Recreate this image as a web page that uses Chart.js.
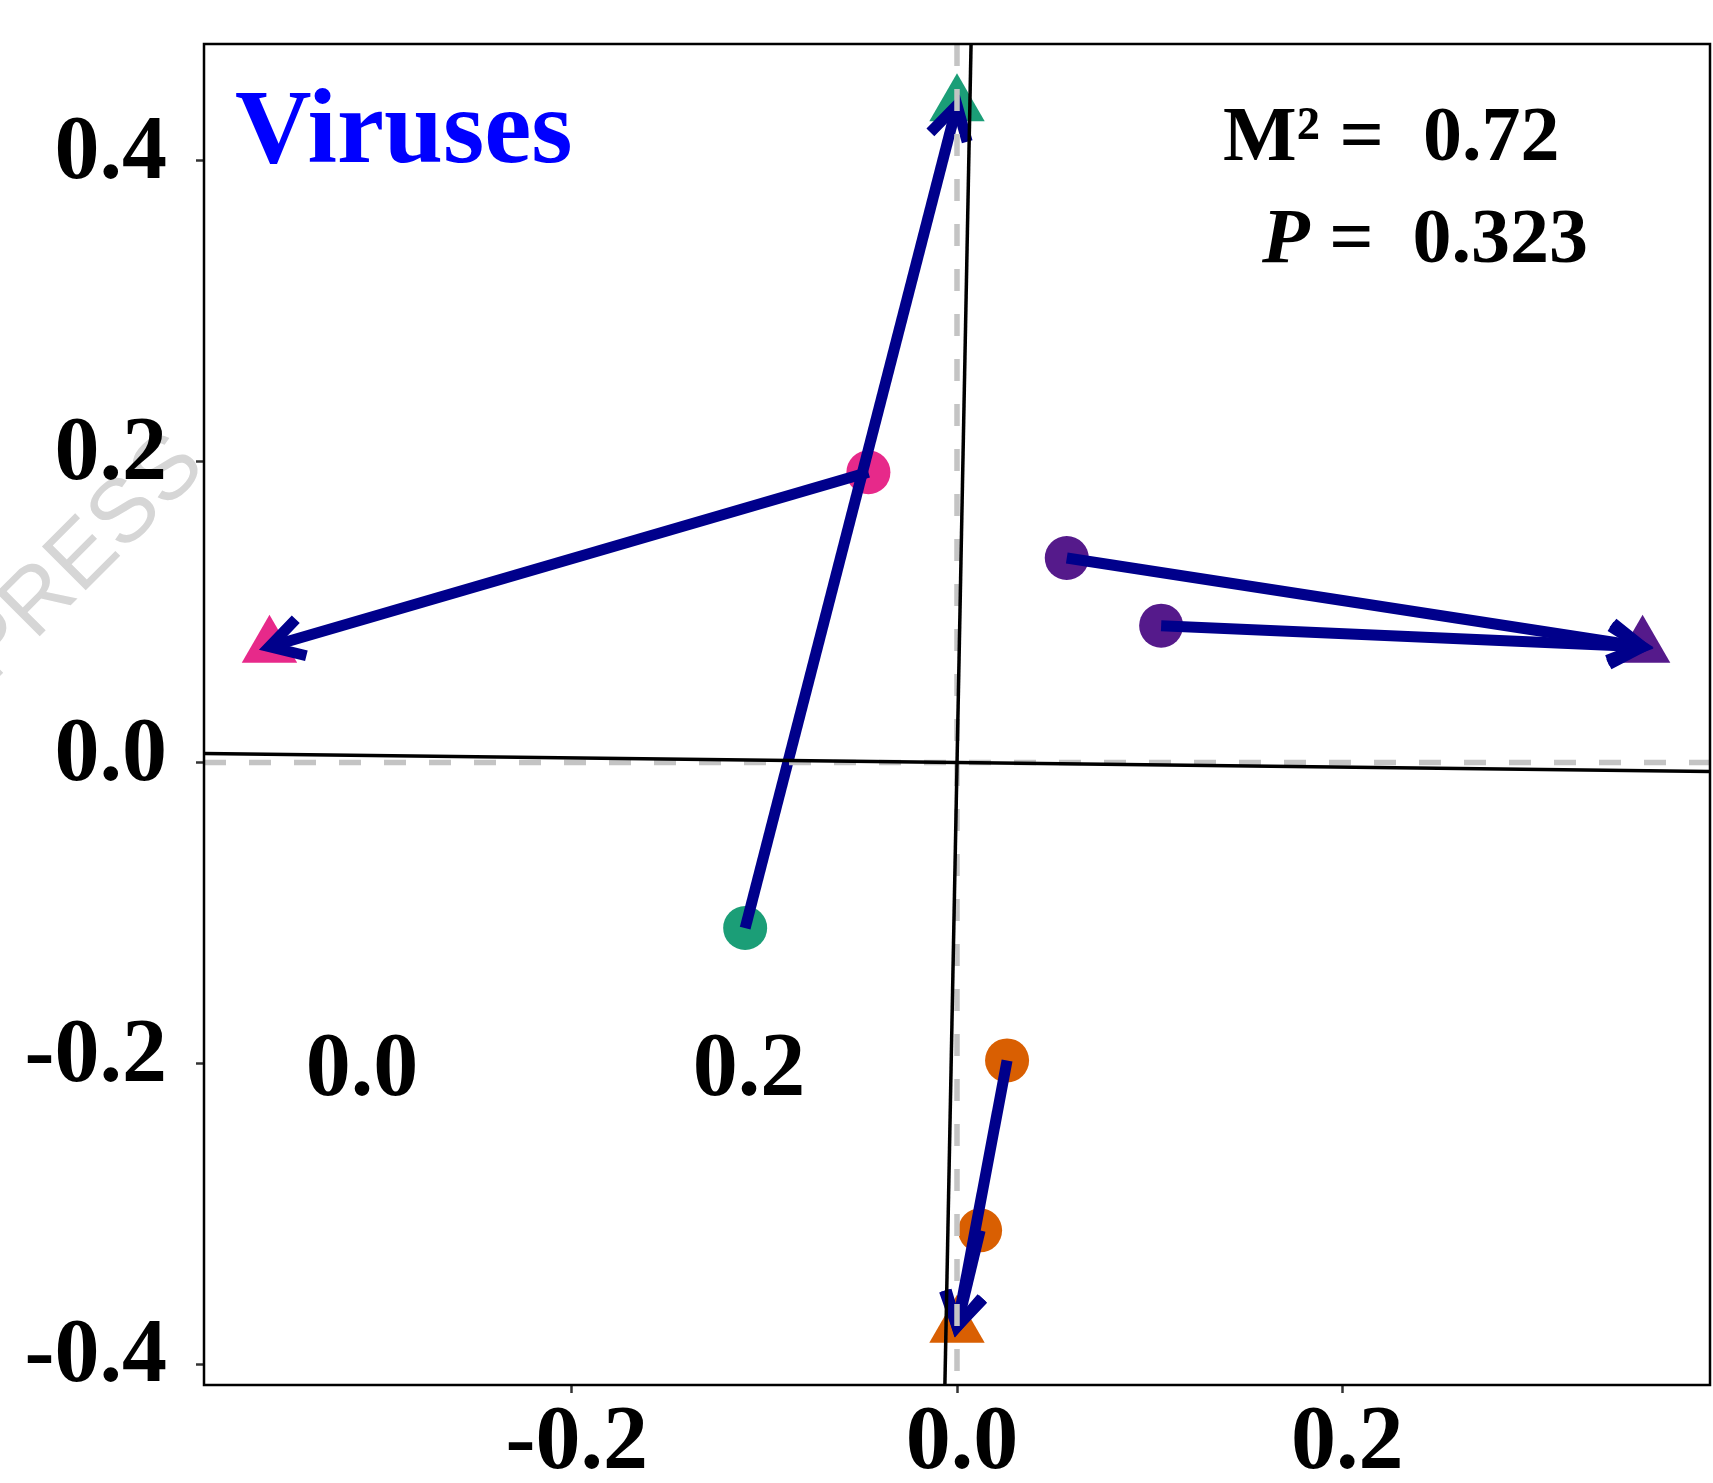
<!DOCTYPE html>
<html><head><meta charset="utf-8">
<script src="https://cdn.jsdelivr.net/npm/chart.js@4/dist/chart.umd.min.js"></script>
<style>html,body{margin:0;padding:0;background:#fff;} canvas{display:block;}</style>
</head><body>
<canvas id="c" width="1713" height="1483"></canvas>
<script>
// ---- data ----
const groupNames = ['G1', 'G2', 'G3', 'G4'];
const groupColors = ['#1B9E77', '#E7298A', '#551A8B', '#D95F02'];
// configuration 1 (circles)
const circleX = [-0.110, -0.046, 0.057, 0.106, 0.026, 0.012];
const circleY = [-0.110, 0.193, 0.136, 0.091, -0.198, -0.311];
const circleGroup = [0, 1, 2, 2, 3, 3];
// target configuration (triangles)
const triX = [0.000, -0.357, 0.356, 0.000];
const triY = [0.437, 0.077, 0.077, -0.375];
const triGroup = [0, 1, 2, 3];
// arrows: circle index -> triangle index
const arrowFrom = [0, 1, 2, 3, 4, 5];
const arrowTo = [0, 1, 2, 2, 3, 3];
// axes
const xTickValues = [-0.2, 0.0, 0.2];
const xTickLabels = ['-0.2', '0.0', '0.2'];
const yTickValues = [-0.4, -0.2, 0.0, 0.2, 0.4];
const yTickLabels = ['-0.4', '-0.2', '0.0', '0.2', '0.4'];
const xLimits = [-0.391, 0.391];
const yLimits = [-0.4138, 0.4777];
// reference (dashed) and rotated (solid) axes
const refLineH = [[-0.391, 0], [0.391, 0]];
const refLineV = [[0, 0.4777], [0, -0.4138]];
const rotLineH = [[-0.391, 0.0060], [0.391, -0.0060]];
const rotLineV = [[0.0073, 0.4777], [-0.0063, -0.4138]];
// stray axis labels inside the panel
const innerLabels = ['0.0', '0.2'];
const innerLabelX = [-0.309, -0.108];
const innerLabelY = [-0.201, -0.201];
// annotation text
const panelTitle = 'Viruses';
const m2Value = '0.72';
const pValue = '0.323';
const watermark = 'PRESS';

const SERIF = '"Liberation Serif", "Times New Roman", serif';
const toPts = (a) => a.map(p => ({x: p[0], y: p[1]}));
const noPad = (s) => { s.paddingTop = 0; s.paddingBottom = 0; s.paddingLeft = 0; s.paddingRight = 0; };

const decor = {
  id: 'decor',
  beforeDraw(chart) {
    const ctx = chart.ctx;
    ctx.save();
    ctx.translate(-8, 684);
    ctx.rotate(-Math.PI / 4);
    ctx.font = '90px "Liberation Sans", Arial, sans-serif';
    ctx.fillStyle = '#d6d6d6';
    ctx.textBaseline = 'alphabetic';
    ctx.textAlign = 'left';
    ctx.fillText(watermark, 0, 0);
    ctx.restore();
  },
  afterDatasetDraw(chart, args) {
    if (args.index !== 1) return;
    const ctx = chart.ctx, xs = chart.scales.x, ys = chart.scales.y;
    ctx.save();
    ctx.strokeStyle = '#00008B';
    ctx.lineWidth = 11;
    ctx.lineCap = 'butt';
    ctx.lineJoin = 'miter';
    for (let i = 0; i < arrowFrom.length; i++) {
      const a = arrowFrom[i], b = arrowTo[i];
      const x1 = xs.getPixelForValue(circleX[a]), y1 = ys.getPixelForValue(circleY[a]);
      const x2 = xs.getPixelForValue(triX[b]), y2 = ys.getPixelForValue(triY[b]);
      const ang = Math.atan2(y2 - y1, x2 - x1);
      const L = 38, h = Math.PI / 6;
      ctx.beginPath(); ctx.moveTo(x1, y1); ctx.lineTo(x2, y2); ctx.stroke();
      ctx.beginPath();
      ctx.moveTo(x2 - L * Math.cos(ang - h), y2 - L * Math.sin(ang - h));
      ctx.lineTo(x2, y2);
      ctx.lineTo(x2 - L * Math.cos(ang + h), y2 - L * Math.sin(ang + h));
      ctx.stroke();
    }
    ctx.restore();
  },
  afterDraw(chart) {
    const ctx = chart.ctx, a = chart.chartArea, xs = chart.scales.x, ys = chart.scales.y;
    ctx.save();
    // frame
    ctx.strokeStyle = '#000';
    ctx.lineWidth = 2.5;
    ctx.strokeRect(a.left, a.top, a.right - a.left, a.bottom - a.top);
    // title
    ctx.fillStyle = '#0000FF';
    ctx.font = 'bold 106px ' + SERIF;
    ctx.textBaseline = 'alphabetic';
    ctx.textAlign = 'left';
    ctx.fillText(panelTitle, 235, 162);
    // stats
    ctx.fillStyle = '#000';
    ctx.font = 'bold 78px ' + SERIF;
    ctx.fillText('M\u00B2 =  ' + m2Value, 1223, 160);
    ctx.font = 'italic bold 78px ' + SERIF;
    ctx.fillText('P', 1262, 262);
    const w = ctx.measureText('P').width;
    ctx.font = 'bold 78px ' + SERIF;
    ctx.fillText(' =  ' + pValue, 1262 + w, 262);
    // inner labels
    ctx.font = 'bold 90px ' + SERIF;
    ctx.textAlign = 'center';
    for (let i = 0; i < innerLabels.length; i++) {
      const px = xs.getPixelForValue(innerLabelX[i]);
      const py = ys.getPixelForValue(innerLabelY[i]);
      ctx.fillText(innerLabels[i], px, py + 30);
    }
    ctx.restore();
  }
};

new Chart(document.getElementById('c'), {
  type: 'scatter',
  data: {
    datasets: [
      {
        label: 'circles',
        data: circleX.map((x, i) => ({x, y: circleY[i]})),
        pointStyle: 'circle',
        pointRadius: 22,
        pointBorderWidth: 0,
        pointBackgroundColor: circleGroup.map(g => groupColors[g]),
        pointBorderColor: circleGroup.map(g => groupColors[g]),
        showLine: false,
        order: 12
      },
      {
        label: 'triangles',
        data: triX.map((x, i) => ({x, y: triY[i]})),
        pointStyle: 'triangle',
        pointRadius: 32,
        pointBorderWidth: 0,
        pointBackgroundColor: triGroup.map(g => groupColors[g]),
        pointBorderColor: triGroup.map(g => groupColors[g]),
        showLine: false,
        order: 11
      },
      {
        label: 'refH', data: toPts(refLineH), showLine: true, pointRadius: 0,
        borderColor: '#c4c4c4', borderWidth: 5.5, borderDash: [22, 23], order: 5
      },
      {
        label: 'refV', data: toPts(refLineV), showLine: true, pointRadius: 0,
        borderColor: '#c4c4c4', borderWidth: 5.5, borderDash: [22, 23], order: 5
      },
      {
        label: 'rotH', data: toPts(rotLineH), showLine: true, pointRadius: 0,
        borderColor: '#000', borderWidth: 3.5, order: 1
      },
      {
        label: 'rotV', data: toPts(rotLineV), showLine: true, pointRadius: 0,
        borderColor: '#000', borderWidth: 3.5, order: 1
      }
    ]
  },
  options: {
    responsive: false,
    animation: false,
    devicePixelRatio: 1,
    layout: { autoPadding: false, padding: { top: 44, right: 3, left: 0, bottom: 0 } },
    plugins: { legend: { display: false }, tooltip: { enabled: false } },
    scales: {
      x: {
        type: 'linear',
        min: xLimits[0], max: xLimits[1],
        afterFit: (s) => { s.height = 98; noPad(s); },
        afterBuildTicks: (s) => { s.ticks = xTickValues.map(v => ({value: v})); },
        border: { display: false },
        grid: { drawOnChartArea: false, drawTicks: true, tickLength: 8, tickWidth: 2.5, tickColor: '#333' },
        ticks: {
          color: '#000',
          font: { family: SERIF, size: 90, weight: 'bold', lineHeight: 1 },
          padding: 7,
          maxRotation: 0,
          autoSkip: false,
          labelOffset: 5,
          callback: (v) => { const i = xTickValues.findIndex(t => Math.abs(t - v) < 1e-9); return i >= 0 ? xTickLabels[i] : ''; }
        }
      },
      y: {
        type: 'linear',
        min: yLimits[0], max: yLimits[1],
        afterFit: (s) => { s.width = 204; noPad(s); },
        afterBuildTicks: (s) => { s.ticks = yTickValues.map(v => ({value: v})); },
        border: { display: false },
        grid: { drawOnChartArea: false, drawTicks: true, tickLength: 8, tickWidth: 2.5, tickColor: '#333' },
        ticks: {
          color: '#000',
          font: { family: SERIF, size: 90, weight: 'bold', lineHeight: 1 },
          padding: 29,
          autoSkip: false,
          labelOffset: -6,
          callback: (v) => { const i = yTickValues.findIndex(t => Math.abs(t - v) < 1e-9); return i >= 0 ? yTickLabels[i] : ''; }
        }
      }
    }
  },
  plugins: [decor]
});
</script>
</body></html>
